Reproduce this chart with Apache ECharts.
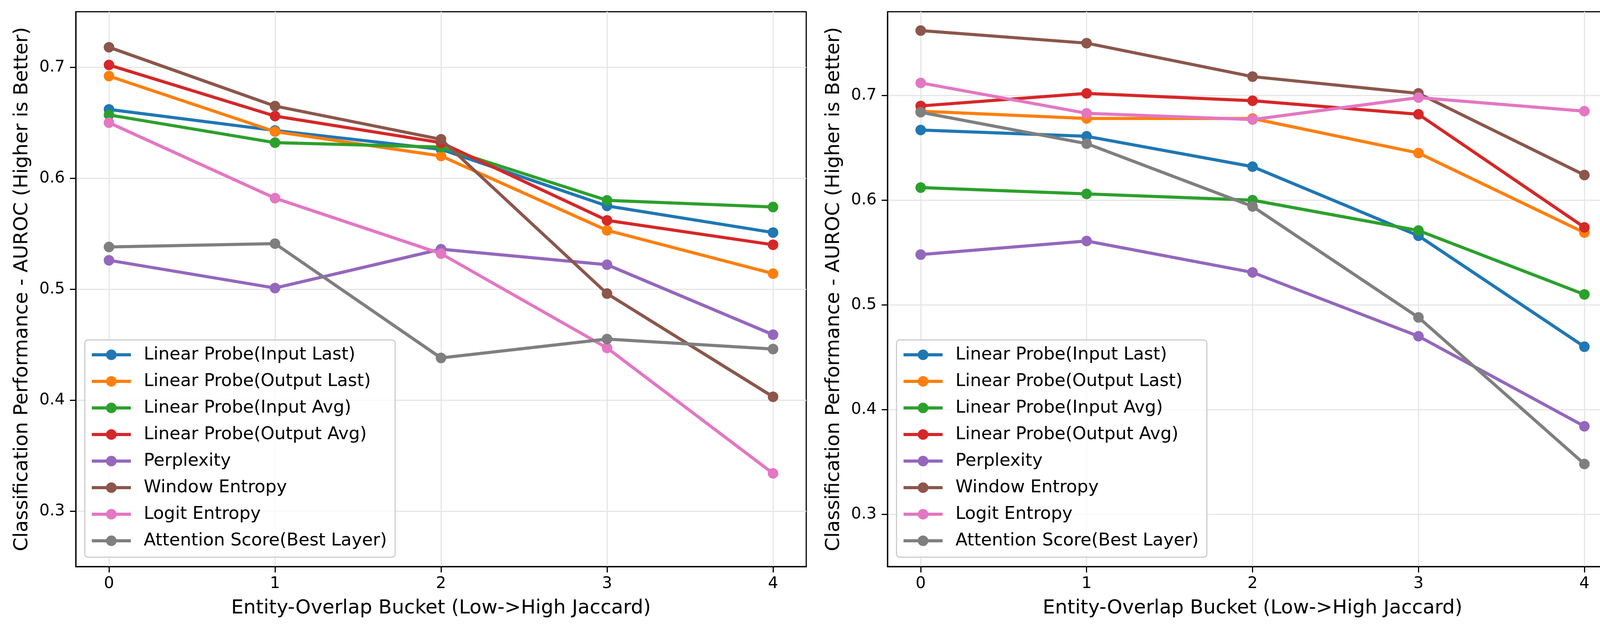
<!DOCTYPE html>
<html>
<head>
<meta charset="utf-8">
<script src="https://cdn.jsdelivr.net/npm/echarts@6/dist/echarts.min.js"></script>
<style>html,body{margin:0;padding:0;background:#fff;overflow:hidden;}#chart{width:4170px;height:1620px;}</style>
</head>
<body>
<div id="chart"></div>
<script>
const buckets = [0, 1, 2, 3, 4];
const xTickValues = [0, 1, 2, 3, 4];
const yTickValues = [0.3, 0.4, 0.5, 0.6, 0.7];
const seriesNames = [
  'Linear Probe(Input Last)', 'Linear Probe(Output Last)', 'Linear Probe(Input Avg)',
  'Linear Probe(Output Avg)', 'Perplexity', 'Window Entropy', 'Logit Entropy',
  'Attention Score(Best Layer)'
];
const seriesColors = ['#1f77b4', '#ff7f0e', '#2ca02c', '#d62728', '#9467bd', '#8c564b', '#e377c2', '#7f7f7f'];

// Left panel
const leftInputLast   = [0.662, 0.643, 0.626, 0.575, 0.551];
const leftOutputLast  = [0.692, 0.642, 0.620, 0.553, 0.514];
const leftInputAvg    = [0.657, 0.632, 0.628, 0.580, 0.574];
const leftOutputAvg   = [0.702, 0.656, 0.632, 0.562, 0.540];
const leftPerplexity  = [0.526, 0.501, 0.536, 0.522, 0.459];
const leftWindowEnt   = [0.718, 0.665, 0.635, 0.496, 0.403];
const leftLogitEnt    = [0.650, 0.582, 0.532, 0.447, 0.334];
const leftAttention   = [0.538, 0.541, 0.438, 0.455, 0.446];

// Right panel
const rightInputLast  = [0.667, 0.661, 0.632, 0.566, 0.460];
const rightOutputLast = [0.685, 0.678, 0.678, 0.645, 0.569];
const rightInputAvg   = [0.612, 0.606, 0.600, 0.571, 0.510];
const rightOutputAvg  = [0.690, 0.702, 0.695, 0.682, 0.574];
const rightPerplexity = [0.548, 0.561, 0.531, 0.470, 0.384];
const rightWindowEnt  = [0.762, 0.750, 0.718, 0.702, 0.624];
const rightLogitEnt   = [0.712, 0.683, 0.677, 0.698, 0.685];
const rightAttention  = [0.684, 0.654, 0.594, 0.488, 0.348];

const leftSets = [leftInputLast, leftOutputLast, leftInputAvg, leftOutputAvg, leftPerplexity, leftWindowEnt, leftLogitEnt, leftAttention];
const rightSets = [rightInputLast, rightOutputLast, rightInputAvg, rightOutputAvg, rightPerplexity, rightWindowEnt, rightLogitEnt, rightAttention];

const FONT = 'DejaVu Sans';

function makeX(idx) {
  return {
    type: 'value', gridIndex: idx, min: -0.2, max: 4.2,
    name: 'Entity-Overlap Bucket (Low->High Jaccard)', nameLocation: 'middle', nameGap: 82,
    nameTextStyle: { fontFamily: FONT, fontSize: 50, color: '#000' },
    axisLine: { show: true, onZero: false, lineStyle: { color: '#000', width: 3 } },
    axisTick: { show: true, inside: false, length: 15, lineStyle: { color: '#000', width: 3 }, customValues: xTickValues },
    axisLabel: { show: true, margin: 24, fontFamily: FONT, fontSize: 41, color: '#000', customValues: xTickValues, formatter: v => String(v) },
    splitLine: { show: true, lineStyle: { color: '#e6e6e6', width: 3 } }
  };
}
function makeY(idx, min, max) {
  return {
    type: 'value', gridIndex: idx, min: min, max: max,
    name: 'Classification Performance - AUROC (Higher is Better)', nameLocation: 'middle', nameGap: 112,
    nameTextStyle: { fontFamily: FONT, fontSize: 50, color: '#000' },
    axisLine: { show: true, onZero: false, lineStyle: { color: '#000', width: 3 } },
    axisTick: { show: true, inside: false, length: 15, lineStyle: { color: '#000', width: 3 }, customValues: yTickValues },
    axisLabel: { show: true, margin: 28, fontFamily: FONT, fontSize: 41, color: '#000', customValues: yTickValues, formatter: v => v.toFixed(1) },
    splitLine: { show: true, lineStyle: { color: '#e6e6e6', width: 3 } }
  };
}
function makeLegend(left) {
  return {
    orient: 'vertical', left: left, top: 870,
    itemWidth: 100, itemHeight: 34, itemGap: 18,
    padding: [13, 21, 17, 14],
    backgroundColor: 'rgba(255,255,255,0.8)', borderColor: '#cccccc', borderWidth: 3, borderRadius: 8,
    lineStyle: { width: 8 },
    textStyle: { fontFamily: FONT, fontSize: 45, color: '#000', lineHeight: 50, padding: [0, 0, 0, 28] },
    data: seriesNames
  };
}
const series = [];
[leftSets, rightSets].forEach((sets, gi) => {
  sets.forEach((vals, i) => {
    series.push({
      name: seriesNames[i], type: 'line', xAxisIndex: gi, yAxisIndex: gi,
      data: buckets.map((b, k) => [b, vals[k]]),
      symbol: 'circle', symbolSize: 27, showSymbol: true,
      lineStyle: { width: 8, color: seriesColors[i] },
      itemStyle: { color: seriesColors[i] },
      emphasis: { disabled: true }, z: 2 + i
    });
  });
});

const chart = echarts.init(document.getElementById('chart'), null, { renderer: 'canvas', width: 4170, height: 1620 });
chart.setOption({
  animation: false,
  backgroundColor: '#fff',
  grid: [
    { left: 194, top: 30, right: 2106, bottom: 170, show: true, borderColor: '#000', borderWidth: 3, containLabel: false, outerBoundsMode: 'none' },
    { left: 2272, top: 30, right: 29, bottom: 170, show: true, borderColor: '#000', borderWidth: 3, containLabel: false, outerBoundsMode: 'none' }
  ],
  xAxis: [makeX(0), makeX(1)],
  yAxis: [makeY(0, 0.25, 0.75), makeY(1, 0.25, 0.78)],
  legend: [makeLegend(217), makeLegend(2295)],
  series: series
});
</script>
</body>
</html>
